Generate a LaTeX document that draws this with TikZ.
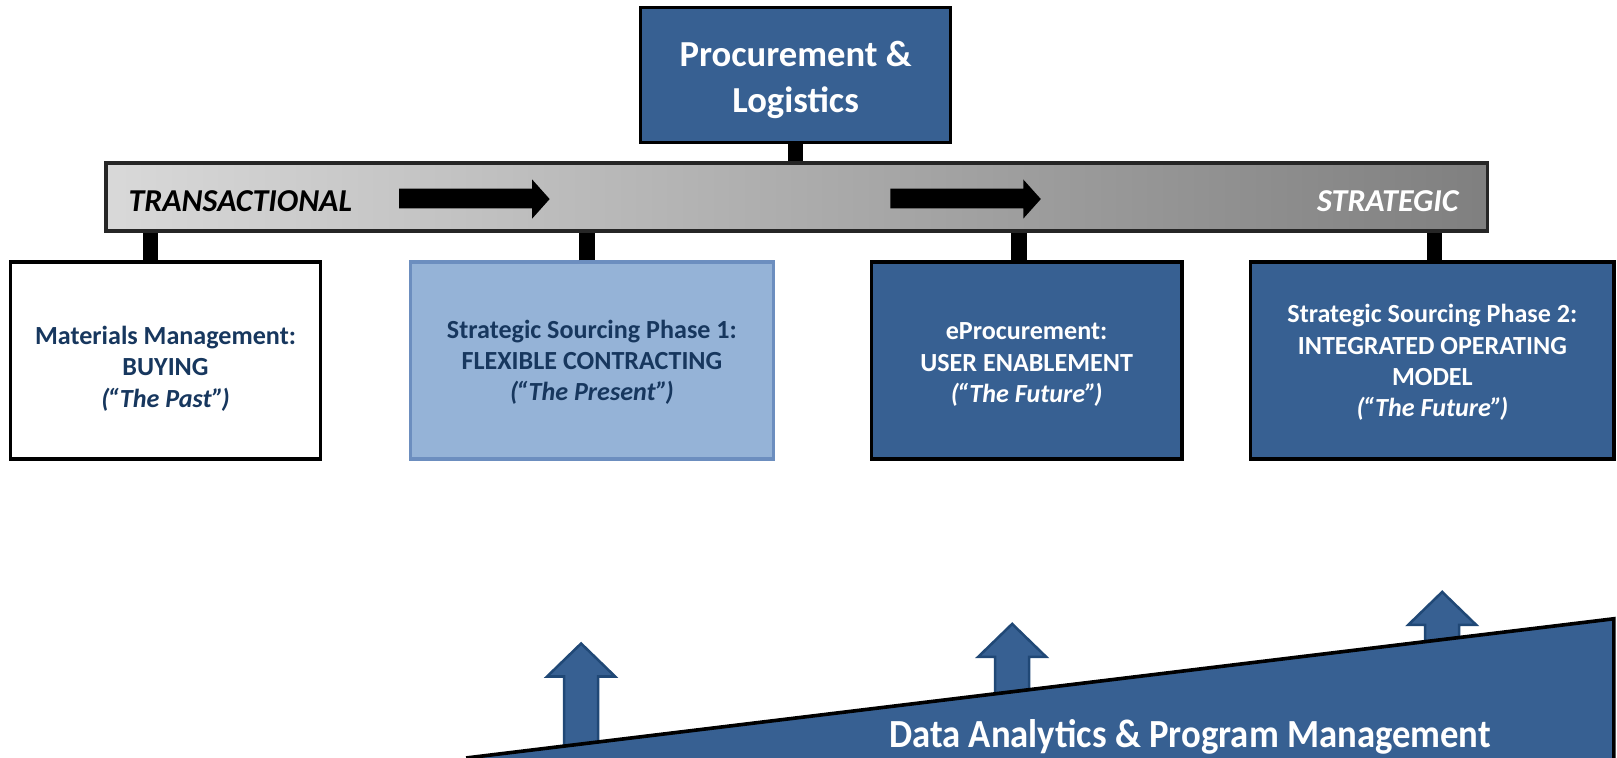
\documentclass[tikz,border=0pt]{standalone}
\usepackage{fontspec}
\setmainfont{Carlito}
\usetikzlibrary{positioning}
\definecolor{plblue}{RGB}{55,96,146}
\definecolor{phaseblue}{RGB}{149,179,215}
\definecolor{phaseedge}{RGB}{108,142,191}
\definecolor{plnavy}{RGB}{23,55,94}
\definecolor{upedge}{RGB}{32,72,118}
\newcommand{\era}[1]{\textit{(\kern-0.5pt“#1”\kern-0.6pt)}}
\tikzset{
  phasebox/.style={draw=black,line width=0.9pt,minimum height=1.91cm,inner sep=0pt},
  phasetext/.style={align=center,inner sep=0pt,font=\bfseries\fontsize{7.2}{8.6}\selectfont},
  stalk/.style={line width=0.15cm},
  barlabel/.style={inner sep=0pt,font=\bfseries\itshape\fontsize{8.8}{10}\selectfont},
  uparrow/.style={fill=plblue,draw=upedge,line width=0.7pt},
}
\begin{document}
\begin{tikzpicture}[x=0.01cm,y=-0.01cm]
\useasboundingbox (0,0) rectangle (1568,735);
\node[draw=black,line width=0.8pt,fill=plblue,minimum width=3.01cm,minimum height=1.31cm] (pl) at (771.5,72.5) {};
\node[text=white,align=center,inner sep=0pt,font=\bfseries\fontsize{10.1}{12.6}\selectfont] (pltxt) at ([yshift=-0.05cm]pl.center) {Procurement \&\\Logistics};
\node[draw=black!85,line width=1pt,left color=black!15,right color=black!50,minimum width=13.39cm,minimum height=0.66cm,inner sep=0pt] (scale) at (772.5,191) {};
\draw[stalk] (pl.south) -- (pl.south |- scale.north);
\node[barlabel,anchor=base west] (trans) at (124,205) {TRANSACTIONAL};
\node[barlabel,anchor=base east,text=white] (strat) at (1415,205) {STRATEGIC};
\fill (387,183) -- (516,183) -- (516,174) -- (533,193) -- (516,212) -- (516,202) -- (387,202) -- cycle;
\fill[xshift=4.76cm] (387,183) -- (516,183) -- (516,174) -- (533,193) -- (516,212) -- (516,202) -- (387,202) -- cycle;
\node[phasebox,minimum width=3.01cm,fill=white] (past) at (160.5,349.5) {};
\node[phasetext,text=plnavy] (pasttxt) at ([yshift=-0.08cm]past.center) {Materials Management:\\BUYING\\\era{The Past}};
\node[phasebox,minimum width=3.52cm,draw=phaseedge,fill=phaseblue] (present) at (574,349.5) {};
\node[phasetext,text=plnavy] (presenttxt) at ([yshift=-0.02cm]present.center) {Strategic Sourcing Phase 1:\\FLEXIBLE CONTRACTING\\\era{The Present}};
\node[phasebox,minimum width=3.01cm,fill=plblue] (eproc) at (995.5,349.5) {};
\node[phasetext,text=white] (eproctxt) at ([yshift=-0.04cm]eproc.center) {eProcurement:\\USER ENABLEMENT\\\era{The Future}};
\node[phasebox,minimum width=3.52cm,fill=plblue] (model) at (1389,349.5) {};
\node[phasetext,text=white] (modeltxt) at ([yshift=-0.02cm]model.center) {Strategic Sourcing Phase 2:\\INTEGRATED OPERATING\\MODEL\\\era{The Future}};
\draw[stalk] ([xshift=-0.145cm]past.north) -- ([xshift=-0.145cm]past.north |- scale.south);
\draw[stalk] ([xshift=-0.05cm]present.north) -- ([xshift=-0.05cm]present.north |- scale.south);
\draw[stalk] ([xshift=-0.075cm]eproc.north) -- ([xshift=-0.075cm]eproc.north |- scale.south);
\draw[stalk] ([xshift=0.02cm]model.north) -- ([xshift=0.02cm]model.north |- scale.south);
\filldraw[uparrow] (563.5,624) -- ++(33,32) -- ++(-16.5,0) -- ++(0,110) -- ++(-33,0) -- ++(0,-110) -- ++(-16.5,0) -- cycle;
\filldraw[uparrow] (981.5,605) -- ++(33,32) -- ++(-16.5,0) -- ++(0,110) -- ++(-33,0) -- ++(0,-110) -- ++(-16.5,0) -- cycle;
\filldraw[uparrow] (1398.5,574) -- ++(33,32) -- ++(-16.5,0) -- ++(0,110) -- ++(-33,0) -- ++(0,-110) -- ++(-16.5,0) -- cycle;
\coordinate (rampfoot) at (452,735);
\coordinate (ramptop) at (1565,600);
\coordinate (rampend) at (1565,735);
\fill[plblue] (rampfoot) -- (ramptop) -- (rampend) -- cycle;
\draw[line width=1pt] (rampfoot) -- (ramptop) -- (rampend);
\node[text=white,inner sep=0pt,anchor=base,font=\bfseries\fontsize{11}{13}\selectfont] (dapm) at (1154,725) {\scalebox{0.92}[1]{Data Analytics \& Program Management}};
\end{tikzpicture}
\end{document}
